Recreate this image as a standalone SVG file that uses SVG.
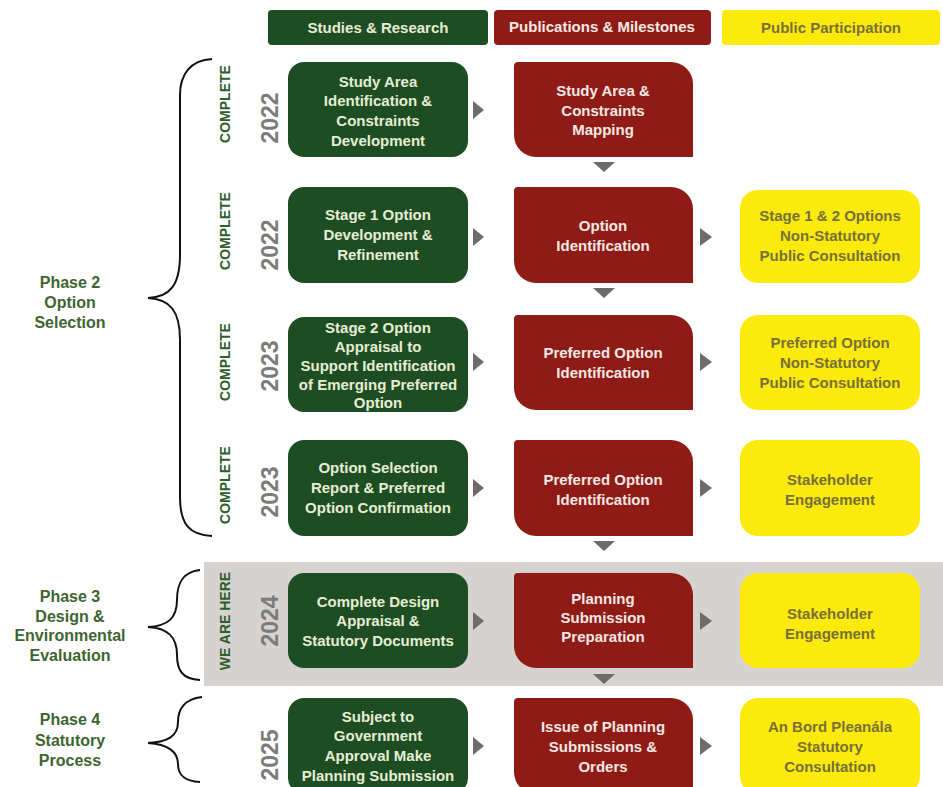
<svg xmlns="http://www.w3.org/2000/svg" width="943" height="787" viewBox="0 0 943 787">
<style>
  text { font-family: "Liberation Sans", Arial, sans-serif; font-weight: bold; }
  .g { fill: #1e4d24; }
  .r { fill: #8e1b16; }
  .y { fill: #fcea0c; }
  .gt { fill: #e6edd3; font-size: 15px; text-anchor: middle; }
  .rt { fill: #f5e8e4; font-size: 15px; text-anchor: middle; }
  .yt { fill: #77703a; font-size: 15px; text-anchor: middle; }
  .st { fill: #2e5e2b; font-size: 14px; text-anchor: middle; }
  .yr { fill: #7b7b7b; font-size: 23px; text-anchor: middle; }
  .ph { fill: #3e6530; font-size: 16px; text-anchor: middle; }
  .arr { fill: #6f6b68; }
  .brace { fill: none; stroke: #111; stroke-width: 2; }
</style>
<rect x="204" y="562" width="739" height="124" fill="#d5d2cf"/>

<g id="headers">
  <g id="h-studies"><rect class="g" x="268" y="10" width="220" height="35" rx="4"/><text class="gt" x="378" y="33">Studies &amp; Research</text></g>
  <g id="h-pubs"><rect class="r" x="494" y="10" width="217" height="35" rx="4"/><text class="rt" x="602" y="32">Publications &amp; Milestones</text></g>
  <g id="h-public"><rect class="y" x="722" y="10" width="218" height="35" rx="4"/><text class="yt" x="831" y="33">Public Participation</text></g>
</g>

<g id="phases">
  <g id="phase2">
    <path class="brace" d="M212,59 C190,60 180,75 180,95 L180,255 C180,285 170,297 148,298 C170,299 180,311 180,340 L180,497 C180,525 190,535 212,536"/>
    <text class="ph"><tspan x="70" y="288">Phase 2</tspan><tspan x="70" y="308">Option</tspan><tspan x="70" y="328">Selection</tspan></text>
  </g>
  <g id="phase3">
    <path class="brace" d="M200,570 C182,572 177,584 177,600 C177,618 168,626 148,627 C168,628 177,637 177,655 C177,670 182,679 200,680"/>
    <text class="ph"><tspan x="70" y="602">Phase 3</tspan><tspan x="70" y="622">Design &amp;</tspan><tspan x="70" y="641">Environmental</tspan><tspan x="70" y="661">Evaluation</tspan></text>
  </g>
  <g id="phase4">
    <path class="brace" d="M202,697 C184,699 178,710 178,722 C178,736 168,742 148,743 C168,744 178,752 178,764 C178,775 184,781 200,782"/>
    <text class="ph"><tspan x="70" y="725">Phase 4</tspan><tspan x="70" y="746">Statutory</tspan><tspan x="70" y="766">Process</tspan></text>
  </g>
</g>

<g id="status">
  <text class="st" transform="translate(230,104) rotate(-90)">COMPLETE</text>
  <text class="yr" transform="translate(278,118) rotate(-90)">2022</text>
  <text class="st" transform="translate(230,231) rotate(-90)">COMPLETE</text>
  <text class="yr" transform="translate(278,245) rotate(-90)">2022</text>
  <text class="st" transform="translate(230,362) rotate(-90)">COMPLETE</text>
  <text class="yr" transform="translate(278,366) rotate(-90)">2023</text>
  <text class="st" transform="translate(230,485) rotate(-90)">COMPLETE</text>
  <text class="yr" transform="translate(278,492) rotate(-90)">2023</text>
  <text class="st" transform="translate(230,621) rotate(-90)">WE ARE HERE</text>
  <text class="yr" transform="translate(278,621) rotate(-90)">2024</text>
  <text class="yr" transform="translate(278,755) rotate(-90)">2025</text>
</g>

<g id="connectors">
  <polygon class="arr" points="473,101 484,110 473,119"/>
  <polygon class="arr" points="593,162 615,162 604,172"/>
  <polygon class="arr" points="473,228 484,237 473,246"/>
  <polygon class="arr" points="700,228 712,237 700,246"/>
  <polygon class="arr" points="593,288 615,288 604,298"/>
  <polygon class="arr" points="473,353 484,362 473,371"/>
  <polygon class="arr" points="700,353 712,362 700,371"/>
  <polygon class="arr" points="473,479 484,488 473,497"/>
  <polygon class="arr" points="700,479 712,488 700,497"/>
  <polygon class="arr" points="593,541 615,541 604,551"/>
  <polygon class="arr" points="473,612 484,621 473,630"/>
  <polygon class="arr" points="700,612 712,621 700,630"/>
  <polygon class="arr" points="593,674 615,674 604,684"/>
  <polygon class="arr" points="473,737 484,746 473,755"/>
  <polygon class="arr" points="700,737 712,746 700,755"/>
</g>

<g id="n1-study"><rect class="g" x="288" y="62" width="180" height="95" rx="16"/>
  <text class="gt"><tspan x="378" y="87">Study Area</tspan><tspan x="378" y="106">Identification &amp;</tspan><tspan x="378" y="126">Constraints</tspan><tspan x="378" y="146">Development</tspan></text></g>
<g id="n1-pub"><path class="r" d="M518,62 H671 A22,22 0 0 1 693,84 V157 H536 A22,22 0 0 1 514,135 V66 A4,4 0 0 1 518,62 Z"/>
  <text class="rt"><tspan x="603" y="96">Study Area &amp;</tspan><tspan x="603" y="116">Constraints</tspan><tspan x="603" y="135">Mapping</tspan></text></g>

<g id="n2-study"><rect class="g" x="288" y="187" width="180" height="96" rx="16"/>
  <text class="gt"><tspan x="378" y="220">Stage 1 Option</tspan><tspan x="378" y="240">Development &amp;</tspan><tspan x="378" y="260">Refinement</tspan></text></g>
<g id="n2-pub"><path class="r" d="M518,187 H671 A22,22 0 0 1 693,209 V283 H536 A22,22 0 0 1 514,261 V191 A4,4 0 0 1 518,187 Z"/>
  <text class="rt"><tspan x="603" y="231">Option</tspan><tspan x="603" y="251">Identification</tspan></text></g>
<g id="n2-public"><rect class="y" x="740" y="190" width="180" height="93" rx="18"/>
  <text class="yt"><tspan x="830" y="221">Stage 1 &amp; 2 Options</tspan><tspan x="830" y="241">Non-Statutory</tspan><tspan x="830" y="261">Public Consultation</tspan></text></g>

<g id="n3-study"><rect class="g" x="288" y="317" width="180" height="95" rx="16"/>
  <text class="gt"><tspan x="378" y="333">Stage 2 Option</tspan><tspan x="378" y="352">Appraisal to</tspan><tspan x="378" y="371">Support Identification</tspan><tspan x="378" y="390">of Emerging Preferred</tspan><tspan x="378" y="408">Option</tspan></text></g>
<g id="n3-pub"><path class="r" d="M518,315 H671 A22,22 0 0 1 693,337 V410 H536 A22,22 0 0 1 514,388 V319 A4,4 0 0 1 518,315 Z"/>
  <text class="rt"><tspan x="603" y="358">Preferred Option</tspan><tspan x="603" y="378">Identification</tspan></text></g>
<g id="n3-public"><rect class="y" x="740" y="315" width="180" height="95" rx="18"/>
  <text class="yt"><tspan x="830" y="348">Preferred Option</tspan><tspan x="830" y="368">Non-Statutory</tspan><tspan x="830" y="388">Public Consultation</tspan></text></g>

<g id="n4-study"><rect class="g" x="288" y="440" width="180" height="96" rx="16"/>
  <text class="gt"><tspan x="378" y="473">Option Selection</tspan><tspan x="378" y="493">Report &amp; Preferred</tspan><tspan x="378" y="513">Option Confirmation</tspan></text></g>
<g id="n4-pub"><path class="r" d="M518,440 H671 A22,22 0 0 1 693,462 V536 H536 A22,22 0 0 1 514,514 V444 A4,4 0 0 1 518,440 Z"/>
  <text class="rt"><tspan x="603" y="485">Preferred Option</tspan><tspan x="603" y="505">Identification</tspan></text></g>
<g id="n4-public"><rect class="y" x="740" y="440" width="180" height="96" rx="18"/>
  <text class="yt"><tspan x="830" y="485">Stakeholder</tspan><tspan x="830" y="505">Engagement</tspan></text></g>

<g id="n5-study"><rect class="g" x="288" y="573" width="180" height="95" rx="16"/>
  <text class="gt"><tspan x="378" y="607">Complete Design</tspan><tspan x="378" y="626">Appraisal &amp;</tspan><tspan x="378" y="646">Statutory Documents</tspan></text></g>
<g id="n5-pub"><path class="r" d="M518,573 H671 A22,22 0 0 1 693,595 V668 H536 A22,22 0 0 1 514,646 V577 A4,4 0 0 1 518,573 Z"/>
  <text class="rt"><tspan x="603" y="604">Planning</tspan><tspan x="603" y="623">Submission</tspan><tspan x="603" y="642">Preparation</tspan></text></g>
<g id="n5-public"><rect class="y" x="740" y="573" width="180" height="95" rx="18"/>
  <text class="yt"><tspan x="830" y="619">Stakeholder</tspan><tspan x="830" y="639">Engagement</tspan></text></g>

<g id="n6-study"><rect class="g" x="288" y="698" width="180" height="96" rx="16"/>
  <text class="gt"><tspan x="378" y="722">Subject to</tspan><tspan x="378" y="741">Government</tspan><tspan x="378" y="761">Approval Make</tspan><tspan x="378" y="781">Planning Submission</tspan></text></g>
<g id="n6-pub"><path class="r" d="M518,698 H671 A22,22 0 0 1 693,720 V794 H536 A22,22 0 0 1 514,772 V702 A4,4 0 0 1 518,698 Z"/>
  <text class="rt"><tspan x="603" y="732">Issue of Planning</tspan><tspan x="603" y="752">Submissions &amp;</tspan><tspan x="603" y="772">Orders</tspan></text></g>
<g id="n6-public"><rect class="y" x="740" y="698" width="180" height="96" rx="18"/>
  <text class="yt"><tspan x="830" y="732">An Bord Pleanála</tspan><tspan x="830" y="752">Statutory</tspan><tspan x="830" y="772">Consultation</tspan></text></g>
</svg>
